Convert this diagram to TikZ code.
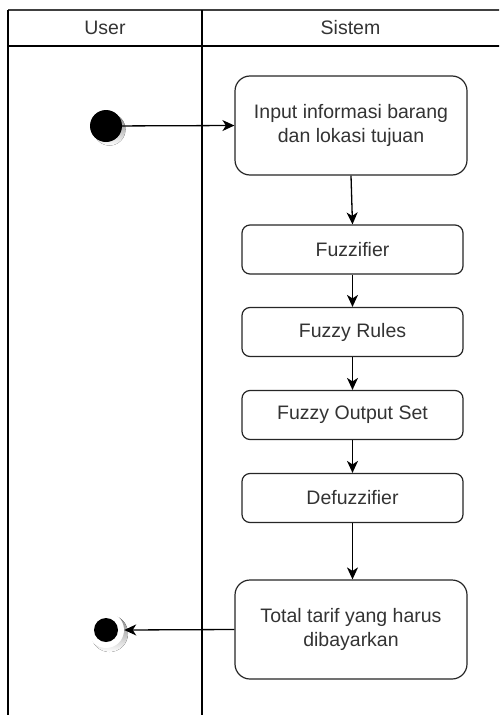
\documentclass[tikz,border=0pt]{standalone}
\usepackage{fontspec}
\setmainfont{Liberation Sans}
\usetikzlibrary{arrows.meta,positioning}
\definecolor{txt}{HTML}{333333}
\definecolor{shade}{HTML}{C4C4C4}
\tikzset{
  lane/.style={line width=1.3pt, draw=black},
  action/.style={draw=black!85, line width=1.2pt, fill=white, text=txt,
    align=center, font=\fontsize{19.5}{23.5}\selectfont, inner sep=0pt},
  bigaction/.style={action, rounded corners=15pt, minimum width=232pt, minimum height=99pt},
  smallaction/.style={action, rounded corners=8pt, minimum width=221pt, minimum height=49pt},
  flow/.style={draw=black, line width=1.3pt, -{Stealth[length=12pt,width=11pt,inset=3.5pt]}},
  header/.style={text=txt, font=\fontsize{19.5}{23.5}\selectfont}
}
\begin{document}
\begin{tikzpicture}[x=1pt,y=-1pt]
\useasboundingbox (0,0) rectangle (499,715);
\begin{scope}
\clip (0,0) rectangle (499,715);
% swimlane frame
\draw[lane, draw=black!75] (8,10) -- (510,10);
\draw[lane] (8,46) -- (510,46);
\draw[lane] (8,10) -- (8,730);
\draw[lane] (202,10) -- (202,730);
\end{scope}
\node[header] (huser) at (105,28) {User};
\node[header] (hsys) at (350.5,28) {Sistem};

% initial state
\fill[shade] (109.5,129.5) circle (16);
\node[circle, fill=black, minimum size=32pt, inner sep=0pt] (start) at (106,126) {};

% actions
\node[bigaction] (input) at (351,125.5) {Input informasi barang\\dan lokasi tujuan};
\node[smallaction] (fuzz) at (352.5,249.5) {Fuzzifier};
\node[smallaction] (rules) at (352.5,332) {Fuzzy Rules};
\node[smallaction] (outset) at (352.5,415) {Fuzzy Output Set};
\node[smallaction] (defuzz) at (352.5,498) {Defuzzifier};
\node[bigaction] (total) at (351,629.5) {Total tarif yang harus\\dibayarkan};

% final state
\fill[shade] (109.5,633.5) circle (18.5);
\node[circle, fill=white, minimum size=36pt, inner sep=0pt] (endring) at (106,630) {};
\node[circle, fill=black, minimum size=24pt, inner sep=0pt] (finish) at (106,630) {};

% control flow
\draw[flow] (start) -- (input.west);
\draw[flow] (input.south) -- (fuzz.north);
\draw[flow] (fuzz) -- (rules);
\draw[flow] (rules) -- (outset);
\draw[flow] (outset) -- (defuzz);
\draw[flow] (defuzz) -- (total.north -| defuzz.south);
\draw[flow] (total.west) -- (endring.east);
\end{tikzpicture}
\end{document}
